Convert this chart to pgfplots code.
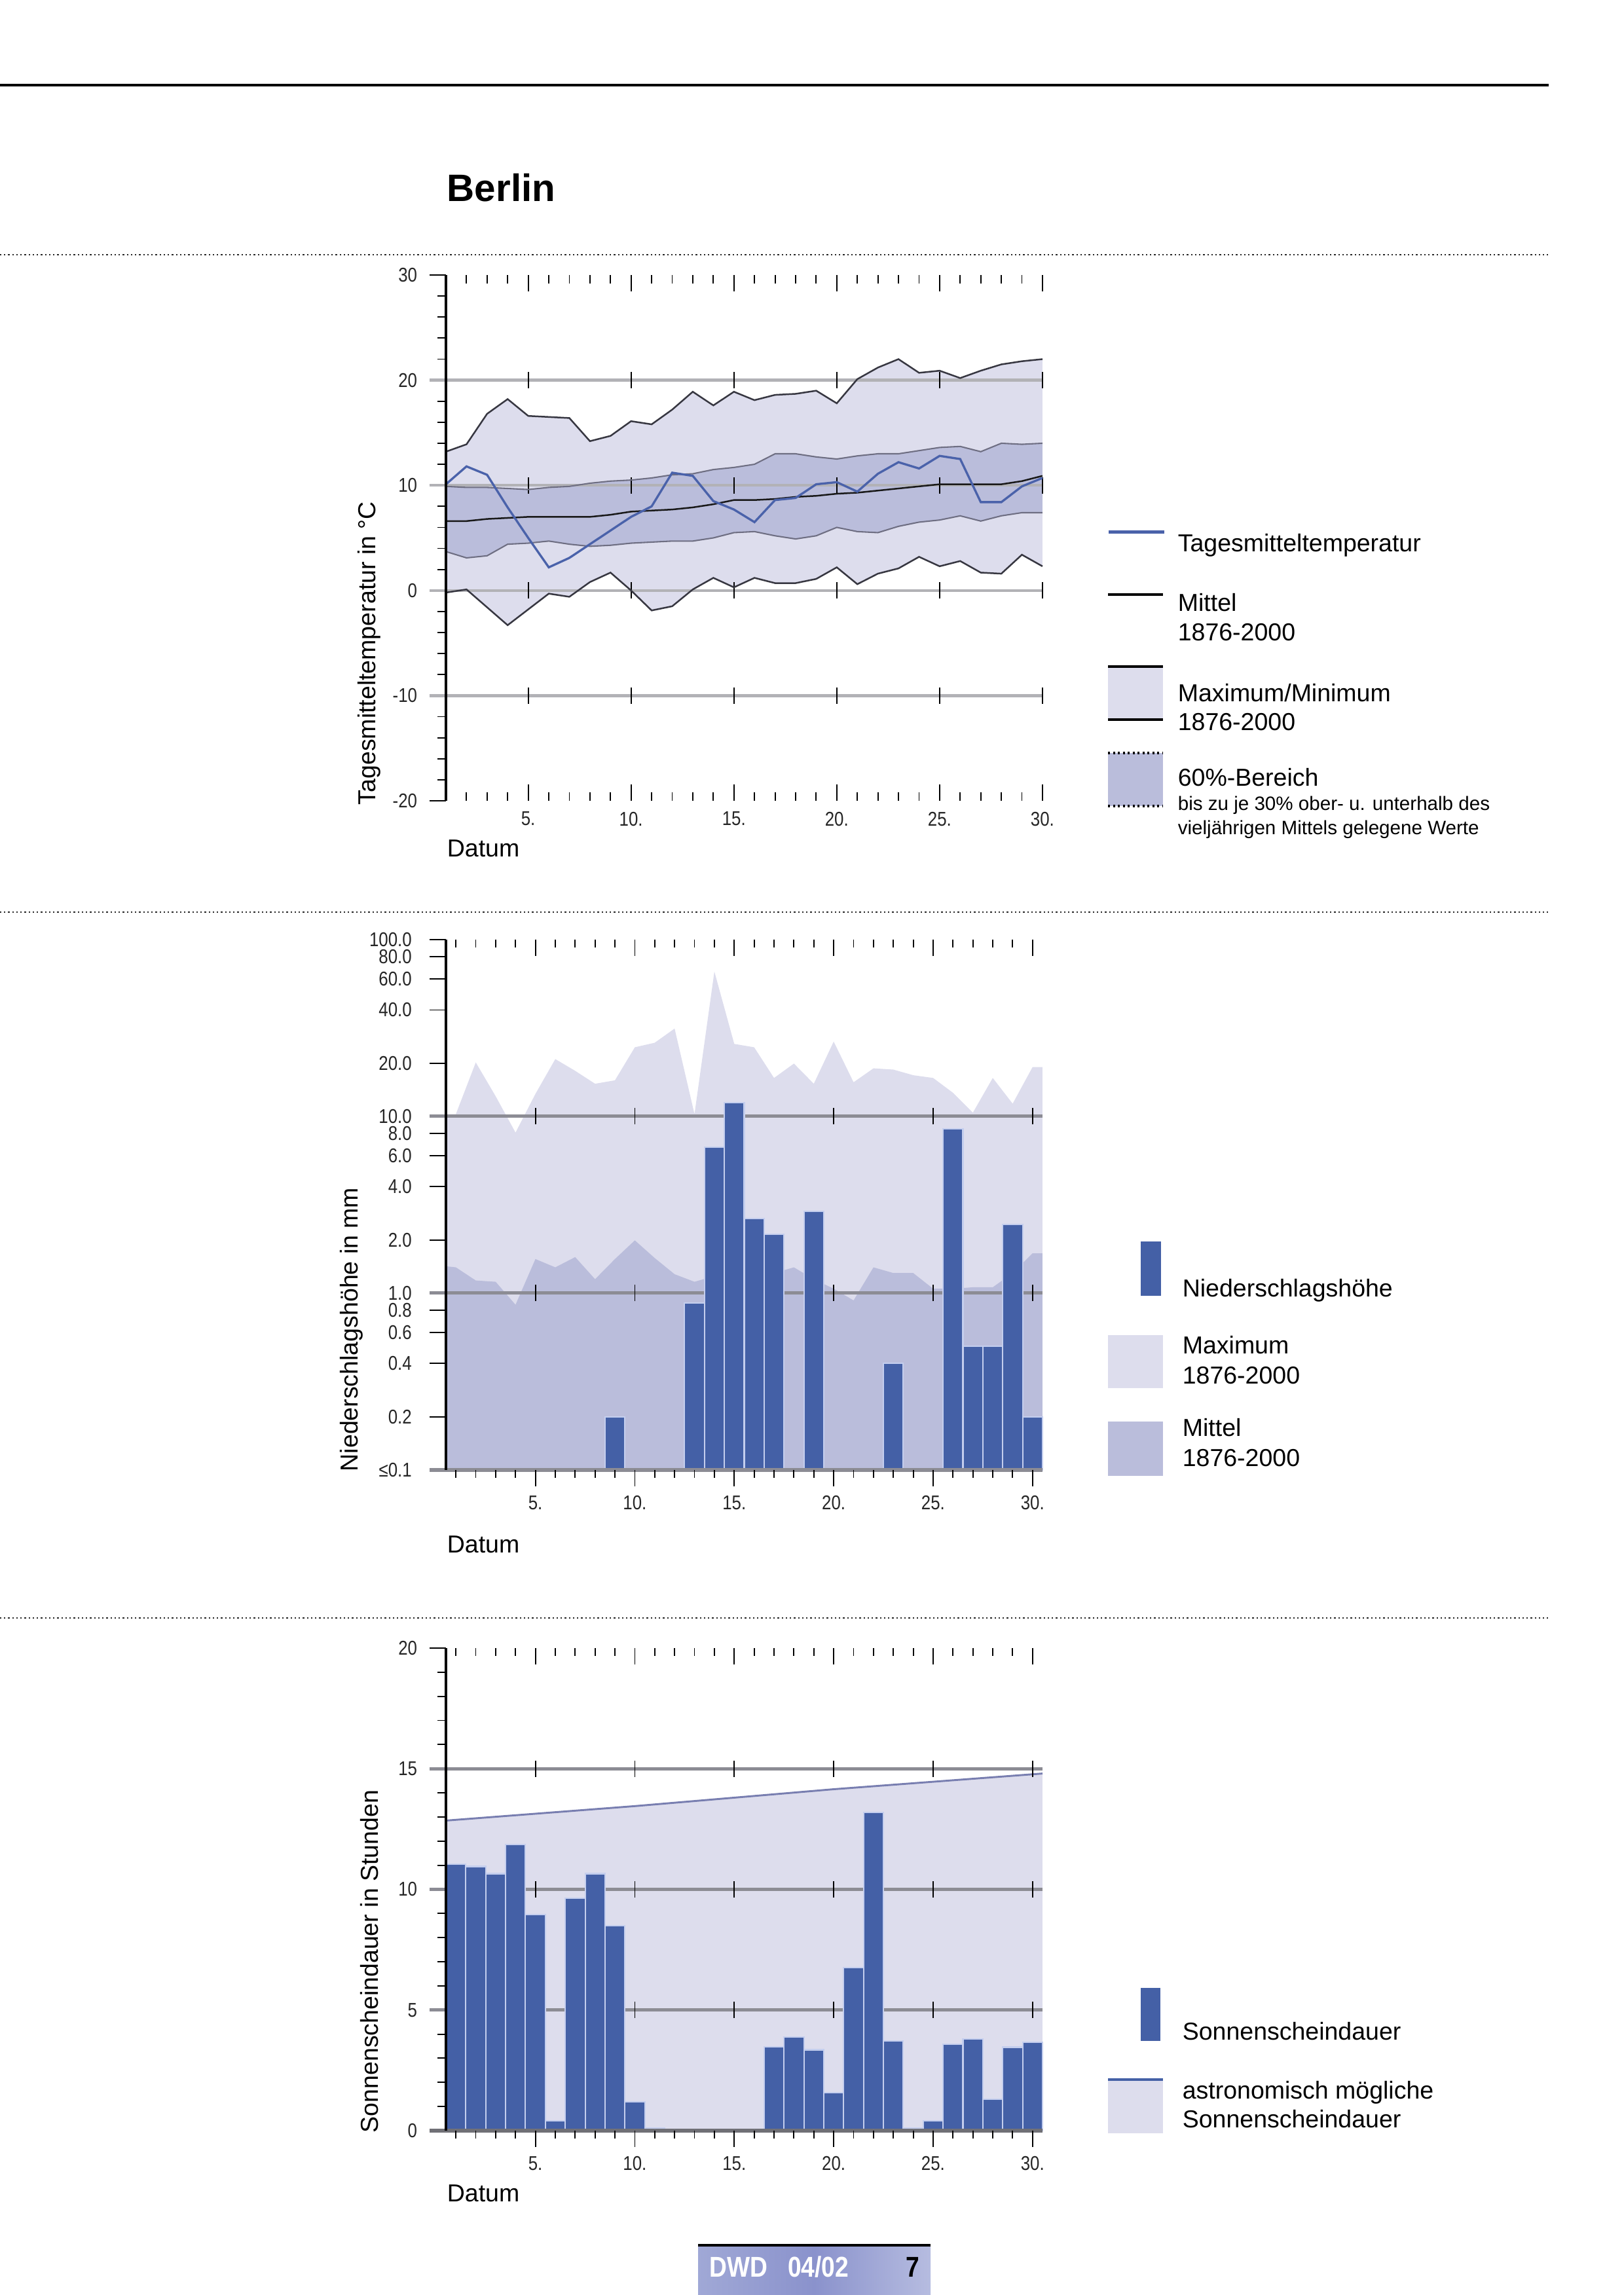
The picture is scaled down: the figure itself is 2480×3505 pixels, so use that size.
\documentclass[border=0pt]{standalone}
\usepackage{fontspec}
\setmainfont{Liberation Sans}
\newfontfamily\narrowfont[FakeStretch=0.85]{Liberation Sans}
\usepackage{pgfplots}
\pgfplotsset{compat=1.18}
\usepackage{pgfplotstable}
\usepgfplotslibrary{fillbetween}

\definecolor{barblue}{RGB}{68,96,166}
\definecolor{barrim}{RGB}{196,206,238}
\definecolor{lineblue}{RGB}{74,98,170}
\definecolor{bandlight}{RGB}{221,221,237}
\definecolor{bandmid}{RGB}{186,189,219}
\definecolor{gridgray}{RGB}{178,178,182}
\definecolor{griddark}{RGB}{140,140,148}
\definecolor{curvegray}{RGB}{55,55,65}
\definecolor{pctline}{RGB}{110,110,130}
\definecolor{astroline}{RGB}{120,126,176}

% Tagesmitteltemperatur (°C): Max, Min, 60%-Bereich, Mittel, Messwert
\pgfplotstableread{
day max min pup plo mean temp
1 13.2 -0.2 9.9 3.7 6.6 10.1
2 13.9 0.1 9.8 3.1 6.6 11.8
3 16.8 -1.6 9.8 3.3 6.8 11.0
4 18.2 -3.3 9.7 4.4 6.9 7.9
5 16.6 -1.8 9.6 4.5 7.0 5.0
6 16.5 -0.3 9.8 4.7 7.0 2.2
7 16.4 -0.6 9.9 4.4 7.0 3.1
8 14.2 0.8 10.2 4.2 7.0 4.4
9 14.7 1.7 10.4 4.3 7.2 5.7
10 16.1 0.0 10.5 4.5 7.5 7.0
11 15.8 -1.9 10.7 4.6 7.6 8.0
12 17.2 -1.5 11.0 4.7 7.7 11.2
13 18.9 0.1 11.1 4.7 7.9 10.9
14 17.6 1.2 11.5 5.0 8.2 8.5
15 18.9 0.3 11.7 5.5 8.6 7.7
16 18.1 1.2 12.0 5.6 8.6 6.5
17 18.6 0.7 13.0 5.2 8.7 8.6
18 18.7 0.7 13.0 4.9 8.9 8.8
19 19.0 1.1 12.7 5.2 9.0 10.1
20 17.8 2.2 12.5 6.0 9.2 10.3
21 20.1 0.6 12.8 5.6 9.3 9.4
22 21.2 1.6 13.0 5.5 9.5 11.1
23 22.0 2.1 13.0 6.1 9.7 12.2
24 20.7 3.2 13.3 6.5 9.9 11.6
25 20.9 2.3 13.6 6.7 10.1 12.8
26 20.2 2.8 13.7 7.1 10.1 12.5
27 20.9 1.7 13.2 6.6 10.1 8.4
28 21.5 1.6 14.0 7.1 10.1 8.4
29 21.8 3.4 13.9 7.4 10.4 9.9
30 22.0 2.3 14.0 7.4 10.9 10.7
}\tempdata

% Niederschlag (mm): Maximum und Mittel 1876-2000
\pgfplotstableread{
day max mean
0.5 10.3 1.42
1 10.3 1.40
2 20.2 1.18
3 13.0 1.16
4 8.1 0.86
5 13.4 1.56
6 21.1 1.40
7 18.1 1.60
8 15.3 1.20
9 16.0 1.56
10 24.6 1.99
11 26.1 1.58
12 31.4 1.28
13 10.3 1.16
14 66.0 1.25
15 25.7 1.25
16 24.6 1.25
17 16.5 1.30
18 19.9 1.40
19 15.3 1.20
20 26.5 1.06
21 15.6 0.91
22 18.7 1.40
23 18.4 1.30
24 17.1 1.30
25 16.5 1.06
26 13.6 1.06
27 10.5 1.08
28 16.5 1.08
29 11.8 1.30
30 19.0 1.68
30.5 19.0 1.68
}\rainclim

% Niederschlagshoehe (mm), Tage ueber 0.1 mm
\pgfplotstableread{
day mm
9 0.2
13 0.88
14 6.7
15 12.0
16 2.65
17 2.15
19 2.9
23 0.4
26 8.5
27 0.5
28 0.5
29 2.45
30 0.2
}\rain

% Sonnenscheindauer (h)
\pgfplotstableread{
day h
1 11.05
2 10.95
3 10.65
4 11.85
5 8.95
6 0.4
7 9.64
8 10.65
9 8.5
10 1.2
11 0.1
17 3.48
18 3.89
19 3.35
20 1.58
21 6.75
22 13.2
23 3.71
24 0.1
25 0.41
26 3.57
27 3.80
28 1.31
29 3.46
30 3.66
}\sun

% astronomisch moegliche Sonnenscheindauer (h)
\pgfplotstableread{
day h
0.5 12.85
10 13.45
20 14.15
30.5 14.8
}\astro

\pgfplotsset{
  dwd/.style={
    scale only axis, anchor=north west, clip=false,
    axis line style={draw=none},
    tick style={black, line width=0.45pt},
    major tick length=6pt, minor tick length=3pt,
    xmin=0.5, xmax=30.5,
    xtick={5,10,...,30}, minor xtick={1,...,30},
    ytick pos=left, ytick align=outside,
    tick label style={font=\narrowfont\fontsize{7.3}{8}\selectfont, text=black!85},
    /pgf/number format/assume math mode=true,
  },
}
\tikzset{plusticks/.style={black, line width=0.45pt}}

\begin{document}
\begin{tikzpicture}

% ---------------- page frame and texts (units: reference pixels) -------------
\begin{scope}[x=0.24pt, y=-0.24pt]
  \path[use as bounding box] (0,0) rectangle (2480,3505);
  \draw[black, line width=1pt] (0,130) -- (2365,130);
  \node[anchor=base west, inner sep=0, font=\fontsize{14}{16}\selectfont\bfseries] at (682,307) {Berlin};
  \foreach \yy in {389,1393,2471}
    \draw[black!85, densely dotted, line width=0.5pt] (0,\yy) -- (2364,\yy);

  % axis titles
  \begin{scope}[font=\fontsize{9}{11}\selectfont]
    \node[rotate=90, anchor=base west, inner sep=0] at (573,1230) {Tagesmitteltemperatur in °C};
    \node[rotate=90, anchor=base west, inner sep=0] at (546,2248) {Niederschlagshöhe in mm};
    \node[rotate=90, anchor=base west, inner sep=0] at (577,3258) {Sonnenscheindauer in Stunden};
    \node[anchor=base west, inner sep=0] at (682,1308) {Datum};
    \node[anchor=base west, inner sep=0] at (682,2371) {Datum};
    \node[anchor=base west, inner sep=0] at (682,3362) {Datum};

    % legend 1
    \draw[lineblue, line width=1.2pt] (1693,812) -- (1778,812);
    \node[anchor=base west, inner sep=0] at (1798,842) {Tagesmitteltemperatur};
    \draw[black, line width=1pt] (1692,908) -- (1776,908);
    \node[anchor=base west, inner sep=0] at (1798,933) {Mittel};
    \node[anchor=base west, inner sep=0] at (1798,978) {1876-2000};
    \fill[bandlight] (1692,1018) rectangle (1776,1099);
    \draw[black, line width=1pt] (1692,1018) -- (1776,1018) (1692,1099) -- (1776,1099);
    \node[anchor=base west, inner sep=0] at (1798,1071) {Maximum/Minimum};
    \node[anchor=base west, inner sep=0] at (1798,1115) {1876-2000};
    \fill[bandmid] (1692,1150) rectangle (1776,1231);
    \draw[black, densely dotted, line width=0.8pt] (1692,1150) -- (1776,1150) (1692,1231) -- (1776,1231);
    \node[anchor=base west, inner sep=0] at (1798,1200) {60\%-Bereich};
    \node[anchor=base west, inner sep=0, font=\fontsize{7.1}{8}\selectfont] at (1798,1237) {bis zu je 30\% ober- u. unterhalb des};
    \node[anchor=base west, inner sep=0, font=\fontsize{7.1}{8}\selectfont] at (1798,1274) {vieljährigen Mittels gelegene Werte};

    % legend 2
    \fill[barblue] (1742,1896) rectangle (1773,1979);
    \node[anchor=base west, inner sep=0] at (1805,1980) {Niederschlagshöhe};
    \fill[bandlight] (1692,2039) rectangle (1776,2120);
    \node[anchor=base west, inner sep=0] at (1805,2067) {Maximum};
    \node[anchor=base west, inner sep=0] at (1805,2113) {1876-2000};
    \fill[bandmid] (1692,2171) rectangle (1776,2254);
    \node[anchor=base west, inner sep=0] at (1805,2193) {Mittel};
    \node[anchor=base west, inner sep=0] at (1805,2239) {1876-2000};

    % legend 3
    \fill[barblue] (1742,3036) rectangle (1772,3117);
    \node[anchor=base west, inner sep=0] at (1805,3115) {Sonnenscheindauer};
    \fill[bandlight] (1692,3174) rectangle (1776,3258);
    \draw[barblue, line width=1pt] (1692,3176) -- (1776,3176);
    \node[anchor=base west, inner sep=0] at (1805,3205) {astronomisch mögliche};
    \node[anchor=base west, inner sep=0] at (1805,3249) {Sonnenscheindauer};
  \end{scope}

  % footer
  \shade[left color={rgb,255:red,160;green,168;blue,214}, right color={rgb,255:red,182;green,188;blue,224},
         middle color={rgb,255:red,138;green,146;blue,204}] (1066,3431) rectangle (1421,3505);
  \draw[black, line width=1pt] (1066,3429) -- (1421,3429);
  \node[anchor=base west, inner sep=0, text=white, font=\narrowfont\fontsize{10.5}{12}\selectfont\bfseries]
    at (1083,3477) {DWD\hspace{0.7em}04/02};
  \node[anchor=base west, inner sep=0, font=\narrowfont\fontsize{10.5}{12}\selectfont\bfseries]
    at (1383,3477) {7};
\end{scope}

% ---------------- chart 1: Tagesmitteltemperatur ------------------------------
\begin{axis}[dwd, at={(163.44pt,-100.8pt)}, width=218.64pt, height=192.72pt,
  xmin=1, xmax=30, ymin=-20, ymax=30,
  xtick pos=both, xtick align=inside,
  xticklabels={5.,10.,15.,20.,25.,30.},
  ytick={-20,-10,...,30}, yticklabels={-20,-10,0,10,20,30},
  minor ytick={-18,-16,...,28},
  yticklabel style={xshift=-1pt},
  xticklabel style={yshift=-0.5pt}]
  \addplot[draw=none, name path=tmax] table[x=day,y=max] {\tempdata};
  \addplot[draw=none, name path=tmin] table[x=day,y=min] {\tempdata};
  \addplot[draw=none, name path=pup] table[x=day,y=pup] {\tempdata};
  \addplot[draw=none, name path=plo] table[x=day,y=plo] {\tempdata};
  \addplot[fill=bandlight, draw=none] fill between[of=tmax and tmin];
  \addplot[fill=bandmid, draw=none] fill between[of=pup and plo];
  \pgfplotsinvokeforeach{-10,0,10,20}{
    \draw[gridgray, line width=1.1pt] ([xshift=-6pt]axis cs:1,#1) -- (axis cs:30,#1);
  }
  \pgfplotsinvokeforeach{5,10,...,30}{
    \draw[plusticks] ([yshift=-3pt]axis cs:#1,-10) -- ([yshift=3pt]axis cs:#1,-10);
    \draw[plusticks] ([yshift=-3pt]axis cs:#1,0) -- ([yshift=3pt]axis cs:#1,0);
    \draw[plusticks] ([yshift=-3pt]axis cs:#1,10) -- ([yshift=3pt]axis cs:#1,10);
    \draw[plusticks] ([yshift=-3pt]axis cs:#1,20) -- ([yshift=3pt]axis cs:#1,20);
  }
  \addplot[pctline, line width=0.5pt] table[x=day,y=pup] {\tempdata};
  \addplot[pctline, line width=0.5pt] table[x=day,y=plo] {\tempdata};
  \addplot[curvegray, line width=0.6pt] table[x=day,y=max] {\tempdata};
  \addplot[curvegray, line width=0.6pt] table[x=day,y=min] {\tempdata};
  \addplot[black!90, line width=0.6pt] table[x=day,y=mean] {\tempdata};
  \addplot[lineblue, line width=0.8pt] table[x=day,y=temp] {\tempdata};
  \draw[black, line width=0.9pt] (rel axis cs:0,0) -- (rel axis cs:0,1);
\end{axis}

% ---------------- chart 2: Niederschlagshoehe ---------------------------------
\begin{axis}[dwd, at={(163.44pt,-344.4pt)}, width=218.64pt, height=194.4pt,
  ymode=log, ymin=0.1, ymax=100, log origin=infty,
  xtick pos=right, xtick align=inside, xticklabels={},
  ytick={0.1,0.2,0.4,0.6,0.8,1,2,4,6,8,10,20,40,60,80,100},
  yticklabels={≤0.1,0.2,0.4,0.6,0.8,1.0,2.0,4.0,6.0,8.0,10.0,20.0,40.0,60.0,80.0,100.0},
  yminorticks=false, major tick length=6pt,
  yticklabel style={xshift=-3pt}]
  \addplot[fill=bandlight, draw=none] table[x=day,y=max] {\rainclim} \closedcycle;
  \addplot[fill=bandmid, draw=none] table[x=day,y=mean] {\rainclim} \closedcycle;
  \pgfplotsinvokeforeach{1,10}{
    \draw[griddark, line width=1.2pt] ([xshift=-6pt]axis cs:0.5,#1) -- (axis cs:30.5,#1);
  }
  \pgfplotsinvokeforeach{5,10,...,30}{
    \draw[plusticks] ([yshift=-3pt]axis cs:#1,1) -- ([yshift=3pt]axis cs:#1,1);
    \draw[plusticks] ([yshift=-3pt]axis cs:#1,10) -- ([yshift=3pt]axis cs:#1,10);
  }
  \addplot[ybar, bar width=1, fill=barblue, draw=barrim, line width=0.5pt] table[x=day,y=mm] {\rain};
  \draw[griddark, line width=1.6pt] ([xshift=-6pt]axis cs:0.5,0.1) -- (axis cs:30.5,0.1);
  \draw[black, line width=0.9pt] (rel axis cs:0,0) -- (rel axis cs:0,1);
\end{axis}
\begin{axis}[dwd, at={(163.44pt,-344.4pt)}, width=218.64pt, height=194.4pt,
  ymode=log, ymin=0.1, ymax=100, ytick=\empty, yminorticks=false,
  xtick pos=left, xtick align=outside,
  xticklabels={5.,10.,15.,20.,25.,30.}]
\end{axis}

% ---------------- chart 3: Sonnenscheindauer ----------------------------------
\begin{axis}[dwd, at={(163.44pt,-604.08pt)}, width=218.64pt, height=176.88pt,
  ymin=0, ymax=20, ytick={0,5,...,20}, minor ytick={1,...,19},
  xtick pos=right, xtick align=inside, xticklabels={},
  yticklabel style={xshift=-1pt}]
  \addplot[fill=bandlight, draw=none] table[x=day,y=h] {\astro} \closedcycle;
  \addplot[astroline, line width=0.7pt] table[x=day,y=h] {\astro};
  \pgfplotsinvokeforeach{5,10,15}{
    \draw[griddark, line width=1.1pt] ([xshift=-6pt]axis cs:0.5,#1) -- (axis cs:30.5,#1);
  }
  \pgfplotsinvokeforeach{5,10,...,30}{
    \draw[plusticks] ([yshift=-3pt]axis cs:#1,5) -- ([yshift=3pt]axis cs:#1,5);
    \draw[plusticks] ([yshift=-3pt]axis cs:#1,10) -- ([yshift=3pt]axis cs:#1,10);
    \draw[plusticks] ([yshift=-3pt]axis cs:#1,15) -- ([yshift=3pt]axis cs:#1,15);
  }
  \addplot[ybar, bar width=1, fill=barblue, draw=barrim, line width=0.5pt] table[x=day,y=h] {\sun};
  \draw[griddark!80!black, line width=1.6pt] ([xshift=-6pt]axis cs:0.5,0) -- (axis cs:30.5,0);
  \draw[black, line width=0.9pt] (rel axis cs:0,0) -- (rel axis cs:0,1);
\end{axis}
\begin{axis}[dwd, at={(163.44pt,-604.08pt)}, width=218.64pt, height=176.88pt,
  ymin=0, ymax=20, ytick=\empty,
  xtick pos=left, xtick align=outside,
  xticklabels={5.,10.,15.,20.,25.,30.}]
\end{axis}

\end{tikzpicture}
\end{document}
